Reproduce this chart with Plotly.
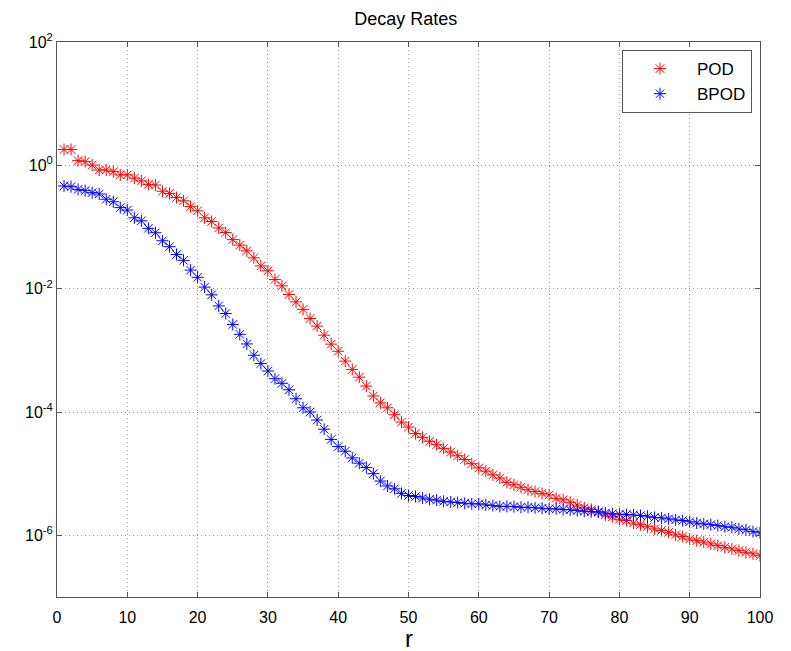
import plotly.graph_objects as go

r = list(range(1, 101))

pod = [
    1.81, 1.81, 1.19, 1.15, 1.01, 0.84, 0.84, 0.79, 0.70, 0.70,
    0.62, 0.56, 0.49, 0.48, 0.38, 0.35, 0.30, 0.266, 0.214, 0.183,
    0.141, 0.123, 0.0966, 0.0813, 0.0624, 0.0509, 0.0411, 0.0316, 0.0234, 0.0195,
    0.0141, 0.0111, 0.00805, 0.00611, 0.00462, 0.00328, 0.00247, 0.00176, 0.00126, 0.000966,
    0.000668, 0.00049, 0.000367, 0.000263, 0.000182, 0.000141, 0.000117, 9.04e-5, 6.85e-5, 5.69e-5,
    4.47e-5, 3.89e-5, 3.35e-5, 2.95e-5, 2.57e-5, 2.24e-5, 1.95e-5, 1.70e-5, 1.45e-5, 1.24e-5,
    1.10e-5, 9.55e-6, 8.51e-6, 7.24e-6, 6.61e-6, 6.03e-6, 5.50e-6, 5.13e-6, 4.79e-6, 4.52e-6,
    3.98e-6, 3.76e-6, 3.43e-6, 3.09e-6, 2.79e-6, 2.63e-6, 2.43e-6, 2.14e-6, 2.00e-6, 1.82e-6,
    1.74e-6, 1.58e-6, 1.49e-6, 1.38e-6, 1.27e-6, 1.20e-6, 1.12e-6, 1.02e-6, 9.55e-7, 8.71e-7,
    8.20e-7, 7.76e-7, 7.24e-7, 6.81e-7, 6.40e-7, 6.03e-7, 5.65e-7, 5.31e-7, 5.01e-7, 4.68e-7,
]

bpod = [
    0.462, 0.451, 0.407, 0.389, 0.361, 0.343, 0.282, 0.257, 0.206, 0.188,
    0.141, 0.126, 0.0951, 0.0807, 0.0598, 0.0479, 0.0359, 0.0288, 0.0200, 0.0153,
    0.0106, 0.00794, 0.00525, 0.00395, 0.00263, 0.00182, 0.00127, 0.000832, 0.00061, 0.000462,
    0.000347, 0.000292, 0.000229, 0.000164, 0.000117, 0.0001, 7.41e-5, 5.25e-5, 3.59e-5, 2.75e-5,
    2.31e-5, 1.80e-5, 1.48e-5, 1.26e-5, 1.00e-5, 7.59e-6, 6.31e-6, 5.69e-6, 4.79e-6, 4.42e-6,
    4.27e-6, 4.03e-6, 3.85e-6, 3.72e-6, 3.56e-6, 3.48e-6, 3.40e-6, 3.31e-6, 3.24e-6, 3.24e-6,
    3.12e-6, 3.04e-6, 2.95e-6, 2.95e-6, 2.92e-6, 2.85e-6, 2.85e-6, 2.79e-6, 2.75e-6, 2.69e-6,
    2.69e-6, 2.63e-6, 2.59e-6, 2.52e-6, 2.45e-6, 2.43e-6, 2.37e-6, 2.29e-6, 2.24e-6, 2.21e-6,
    2.17e-6, 2.14e-6, 2.09e-6, 2.04e-6, 1.95e-6, 1.92e-6, 1.85e-6, 1.78e-6, 1.74e-6, 1.66e-6,
    1.58e-6, 1.53e-6, 1.49e-6, 1.44e-6, 1.38e-6, 1.35e-6, 1.27e-6, 1.23e-6, 1.15e-6, 1.10e-6,
]

series_names = ["POD", "BPOD"]
series_colors = ["#ff0000", "#0000ff"]

y_tickvals = [1e-6, 1e-4, 1e-2, 1e0, 1e2]
y_ticktext = ["10<sup>-6</sup>", "10<sup>-4</sup>", "10<sup>-2</sup>",
              "10<sup>0</sup>", "10<sup>2</sup>"]
x_tickvals = [0, 10, 20, 30, 40, 50, 60, 70, 80, 90, 100]

fig = go.Figure()
for name, vals, col in zip(series_names, [pod, bpod], series_colors):
    fig.add_trace(go.Scatter(
        x=r, y=vals, mode="markers", name=name,
        marker=dict(symbol="asterisk-open", size=10, color=col,
                    line=dict(color=col, width=1)),
    ))

font_family = "Liberation Sans, Arial, Helvetica, sans-serif"
axis_common = dict(
    showline=True, linecolor="#555555", linewidth=1, mirror="allticks",
    ticks="inside", ticklen=5, tickcolor="#555555",
    showgrid=True, gridcolor="#9a9a9a", griddash="1px,3px", gridwidth=1,
    zeroline=False, automargin=False,
    tickfont=dict(size=16, color="black", family=font_family),
)

fig.update_layout(
    width=783, height=643,
    paper_bgcolor="white", plot_bgcolor="white",
    margin=dict(l=49, r=31, t=34, b=54),
    font=dict(family=font_family, color="black"),
    title=dict(text="Decay Rates", x=0.508, xanchor="center", y=0.983, yanchor="middle",
               font=dict(size=18, color="black")),
    showlegend=True,
    legend=dict(x=0.9886, xanchor="right", y=0.9855, yanchor="top",
                bordercolor="#555555", borderwidth=1, bgcolor="white",
                font=dict(size=17, color="black"), itemwidth=64,
                tracegroupgap=0),
    xaxis=dict(range=[0, 100], tickvals=x_tickvals, ticklabelstandoff=6,
               **axis_common),
    yaxis=dict(type="log", range=[-7, 2], tickvals=y_tickvals, ticktext=y_ticktext,
               **axis_common),
    annotations=[dict(text="r", x=0.5, xref="paper", y=-0.074, yref="paper",
                      xanchor="center", yanchor="middle", showarrow=False,
                      font=dict(size=24, color="black"))],
)

fig.write_html("out.html")
